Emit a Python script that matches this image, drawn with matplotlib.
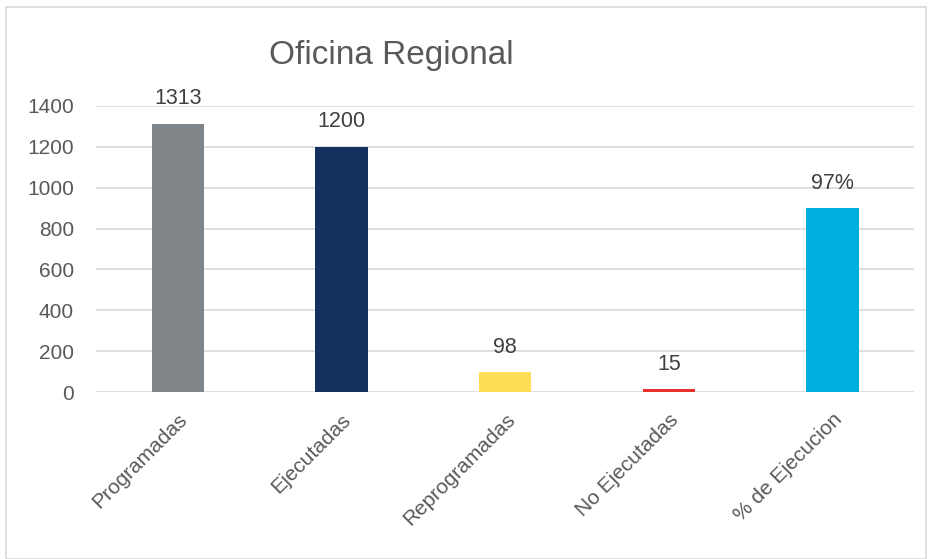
import matplotlib
matplotlib.use("Agg")
import matplotlib.pyplot as plt
from matplotlib.patches import Rectangle

# Data
categories = ["Programadas", "Ejecutadas", "Reprogramadas", "No Ejecutadas", "% de Ejecucion"]
values = [1313, 1200, 98, 15, 900]
value_labels = ["1313", "1200", "98", "15", "97%"]
colors = ["#7f8588", "#14305e", "#ffdd57", "#e8302f", "#00aedd"]
y_ticks = [0, 200, 400, 600, 800, 1000, 1200, 1400]

text_color = "#595959"
plt.rcParams["font.family"] = ["Liberation Sans", "DejaVu Sans"]

fig = plt.figure(figsize=(9.32, 5.59), dpi=100)
ax = fig.add_axes([0.103, 0.2987, 0.878, 0.5117])

x = range(len(categories))
bars = ax.bar(x, values, width=0.32, color=colors, zorder=3)

for b, lab in zip(bars, value_labels):
    ax.annotate(lab, (b.get_x() + b.get_width() / 2, b.get_height()),
                xytext=(0, 14), textcoords="offset points",
                ha="center", va="baseline", fontsize=15.5, color="#404040")

ax.set_xlim(-0.5, len(categories) - 0.5)
ax.set_ylim(0, 1400)
ax.set_yticks(y_ticks)
ax.set_xticks(list(x))
ax.set_xticklabels(categories, rotation=45, ha="right", rotation_mode="anchor",
                   fontsize=15, color=text_color)
ax.tick_params(axis="y", labelsize=15, colors=text_color, length=0, pad=16)
ax.tick_params(axis="x", length=0, pad=13)
ax.grid(axis="y", color="#d9d9d9", linewidth=1.2, zorder=0)
for s in ax.spines.values():
    s.set_visible(False)

fig.text(0.42, 0.9, "Oficina Regional", ha="center", va="center",
         fontsize=24, color=text_color)

# light border around the chart area
fig.patches.append(Rectangle((0.006, 0.0), 0.988, 0.987, transform=fig.transFigure,
                             fill=False, edgecolor="#d9d9d9", linewidth=1.2))

fig.savefig("out.png", dpi=100)
